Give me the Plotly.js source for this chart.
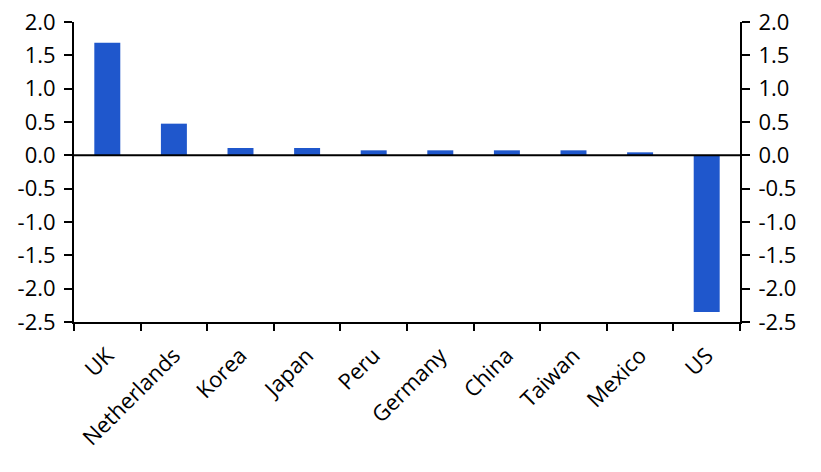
<!DOCTYPE html>
<html>
<head>
<meta charset="utf-8">
<script src="https://cdn.plot.ly/plotly-3.0.1.min.js"></script>
<style>html,body{margin:0;padding:0;background:#fff;}#chart{width:821px;height:472px;}</style>
</head>
<body>
<div id="chart"></div>
<script>
var categories = ["UK", "Netherlands", "Korea", "Japan", "Peru", "Germany", "China", "Taiwan", "Mexico", "US"];
var values = [1.69, 0.475, 0.11, 0.11, 0.075, 0.075, 0.075, 0.075, 0.045, -2.35];
var yTicks = [2.0, 1.5, 1.0, 0.5, 0.0, -0.5, -1.0, -1.5, -2.0, -2.5];
var yTickText = yTicks.map(function(v){ return v.toFixed(1); });

var font = {family: "Open Sans, Noto Sans, sans-serif", size: 22, color: "#000"};

var traces = [
  {type: "bar", x: categories, y: values, marker: {color: "#1f57cc"}, hoverinfo: "x+y", showlegend: false},
  {type: "scatter", mode: "none", x: categories, y: values, yaxis: "y2", hoverinfo: "skip", showlegend: false}
];

var yBase = {
  range: [-2.5, 2.0], tickvals: yTicks, ticktext: yTickText, showgrid: false, zeroline: false,
  showline: true, linecolor: "#000", linewidth: 2, ticks: "outside", ticklen: 8, tickwidth: 2,
  tickcolor: "#000", tickfont: font, fixedrange: true, ticklabelstandoff: 4
};

var layout = {
  width: 821, height: 472,
  margin: {l: 74, r: 81, t: 22, b: 150},
  paper_bgcolor: "#fff", plot_bgcolor: "#fff",
  bargap: 0.61,
  font: font,
  xaxis: {
    type: "category", tickangle: -45, tickson: "boundaries", ticks: "outside", ticklen: 7, tickwidth: 2,
    tickcolor: "#000", showline: true, linecolor: "#000", linewidth: 2, showgrid: false, zeroline: false,
    tickfont: font, fixedrange: true, ticklabelstandoff: 10
  },
  yaxis: Object.assign({}, yBase, {side: "left"}),
  yaxis2: Object.assign({}, yBase, {side: "right", overlaying: "y"}),
  shapes: [{type: "line", xref: "paper", x0: 0, x1: 1, yref: "y", y0: 0, y1: 0, line: {color: "#000", width: 2}}]
};

Plotly.newPlot("chart", traces, layout, {displayModeBar: false, staticPlot: true});
</script>
</body>
</html>
